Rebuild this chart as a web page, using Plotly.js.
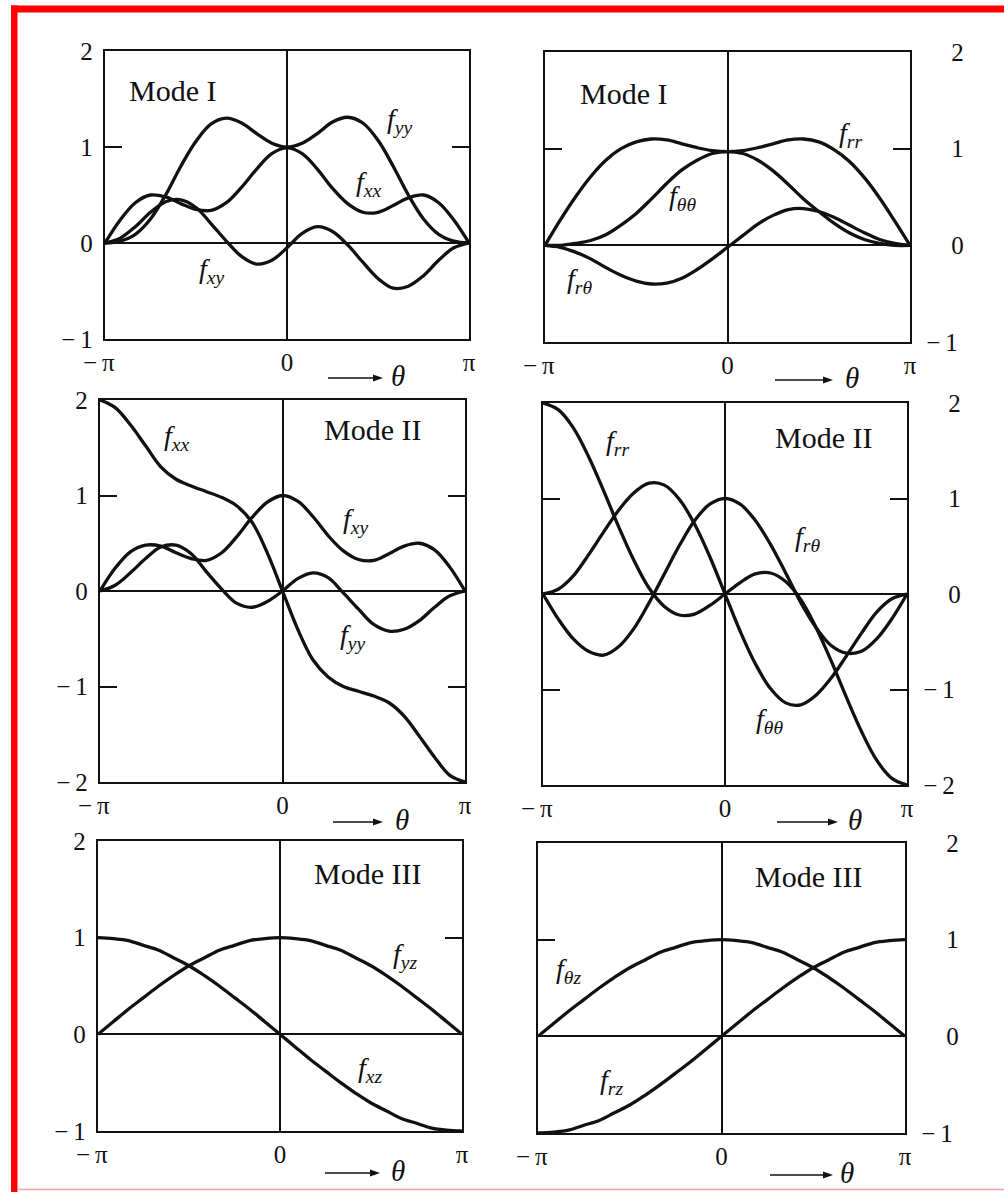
<!DOCTYPE html>
<html><head><meta charset="utf-8">
<script src="https://cdn.plot.ly/plotly-3.0.1.min.js"></script>
<style>html,body{margin:0;padding:0;background:#fff;}#chart{width:1004px;height:1192px;}</style>
</head><body><div id="chart"></div>
<script>
// angle grid (degrees) used for every curve
const theta = [-180,-165,-150,-135,-120,-105,-90,-75,-60,-45,-30,-15,0,15,30,45,60,75,90,105,120,135,150,165,180];

// Mode I, Cartesian
const m1_fxx = [0,0.24,0.42,0.50,0.48,0.41,0.35,0.34,0.42,0.58,0.77,0.93,0.99,0.93,0.77,0.57,0.41,0.32,0.32,0.39,0.47,0.50,0.42,0.24,0];
const m1_fyy = [0,0.02,0.09,0.25,0.50,0.80,1.06,1.24,1.30,1.25,1.14,1.04,1.00,1.04,1.14,1.26,1.31,1.25,1.07,0.80,0.50,0.25,0.09,0.02,0];
const m1_fxy = [0,0.05,0.17,0.32,0.43,0.45,0.37,0.20,0.02,-0.14,-0.22,-0.18,-0.05,0.10,0.17,0.12,-0.02,-0.20,-0.37,-0.47,-0.45,-0.34,-0.18,-0.05,0];
// Mode I, polar
const m1_frr = [0,0.26,0.50,0.71,0.88,1.00,1.07,1.10,1.09,1.05,1.01,0.98,0.97,0.98,1.01,1.05,1.09,1.10,1.07,0.99,0.87,0.70,0.49,0.25,0];
const m1_ftt = [0,0.00,0.02,0.05,0.11,0.21,0.33,0.48,0.64,0.78,0.88,0.95,0.97,0.95,0.88,0.77,0.63,0.48,0.35,0.23,0.13,0.06,0.02,0.00,0];
const m1_frt = [0,-0.02,-0.07,-0.14,-0.23,-0.31,-0.37,-0.40,-0.39,-0.34,-0.25,-0.14,-0.02,0.10,0.22,0.31,0.37,0.38,0.35,0.29,0.21,0.13,0.06,0.02,0];
// Mode II, Cartesian
const m2_fxx = [2.0,1.92,1.74,1.52,1.30,1.17,1.10,1.04,0.98,0.89,0.72,0.40,0.0,-0.40,-0.72,-0.90,-1.0,-1.05,-1.10,-1.17,-1.31,-1.52,-1.74,-1.93,-2.0];
const m2_fxy = [0,0.24,0.41,0.48,0.47,0.40,0.34,0.32,0.40,0.57,0.77,0.93,1.0,0.94,0.78,0.58,0.42,0.33,0.32,0.39,0.47,0.50,0.43,0.25,0];
const m2_fyy = [0,0.06,0.19,0.34,0.46,0.48,0.39,0.20,0.02,-0.13,-0.17,-0.11,0,0.13,0.19,0.14,-0.02,-0.19,-0.35,-0.42,-0.40,-0.31,-0.17,-0.05,0];
// Mode II, polar
const m2_frr = [2.0,1.93,1.74,1.44,1.08,0.70,0.35,0.06,-0.13,-0.22,-0.21,-0.12,0,0.12,0.21,0.22,0.13,-0.06,-0.35,-0.70,-1.08,-1.44,-1.74,-1.93,-2.0];
const m2_ftt = [0,0.05,0.19,0.41,0.65,0.88,1.06,1.16,1.14,0.99,0.73,0.39,0,-0.39,-0.73,-0.99,-1.14,-1.16,-1.06,-0.88,-0.65,-0.41,-0.19,-0.05,0];
const m2_frt = [0,-0.26,-0.47,-0.60,-0.64,-0.55,-0.36,-0.09,0.21,0.51,0.77,0.94,1.0,0.94,0.77,0.52,0.22,-0.09,-0.35,-0.54,-0.62,-0.60,-0.47,-0.26,0];
// Mode III, Cartesian
const m3_fxz = [1.0,0.99,0.97,0.92,0.87,0.79,0.71,0.61,0.50,0.38,0.26,0.13,0,-0.13,-0.26,-0.38,-0.50,-0.61,-0.71,-0.79,-0.87,-0.92,-0.97,-0.99,-1.0];
const m3_fyz = [0,0.13,0.26,0.38,0.50,0.61,0.71,0.79,0.87,0.92,0.97,0.99,1.0,0.99,0.97,0.92,0.87,0.79,0.71,0.61,0.50,0.38,0.26,0.13,0];
// Mode III, polar
const m3_frz = [-1.0,-0.99,-0.97,-0.92,-0.87,-0.79,-0.71,-0.61,-0.50,-0.38,-0.26,-0.13,0,0.13,0.26,0.38,0.50,0.61,0.71,0.79,0.87,0.92,0.97,0.99,1.0];
const m3_ftz = [0,0.13,0.26,0.38,0.50,0.61,0.71,0.79,0.87,0.92,0.97,0.99,1.0,0.99,0.97,0.92,0.87,0.79,0.71,0.61,0.50,0.38,0.26,0.13,0];

const xTickVals = [-180, 0, 180];
const xTickText = ['\u2212\u2009\u03c0\u2002', '0', '\u03c0'];
const yTicksShort = [-1, 0, 1, 2];
const yTicksLong = [-2, -1, 0, 1, 2];

const W = 1004, H = 1192;
const SERIF = 'Liberation Serif, Times New Roman, serif';
const TICK = 25;

// panel boxes in pixels: [left, right, top, bottom]
const panels = [
  {box:[105,469,51,339], side:'left',  yr:[-1,2], yt:yTicksShort, curves:[m1_fxx,m1_fyy,m1_fxy]},
  {box:[545,910,52,342], side:'right', yr:[-1,2], yt:yTicksShort, curves:[m1_frr,m1_ftt,m1_frt]},
  {box:[100,465,400,782], side:'left', yr:[-2,2], yt:yTicksLong, curves:[m2_fxx,m2_fxy,m2_fyy]},
  {box:[543,907,403,785], side:'right', yr:[-2,2], yt:yTicksLong, curves:[m2_frr,m2_ftt,m2_frt]},
  {box:[98,462,841,1131], side:'left', yr:[-1,2], yt:yTicksShort, curves:[m3_fxz,m3_fyz]},
  {box:[538,905,843,1133], side:'right', yr:[-1,2], yt:yTicksShort, curves:[m3_frz,m3_ftz]}
];

const data = [];
const layout = {
  width: W, height: H,
  margin: {l:0, r:0, t:0, b:0},
  paper_bgcolor: '#fff', plot_bgcolor: '#fff',
  showlegend: false,
  font: {family: SERIF, size: TICK, color: '#111'},
  annotations: [], shapes: []
};

panels.forEach((p, i) => {
  const n = i === 0 ? '' : String(i + 1);
  const [l, r, t, b] = p.box;
  p.curves.forEach(c => data.push({
    type: 'scatter', mode: 'lines', x: theta, y: c,
    xaxis: 'x' + n, yaxis: 'y' + n,
    line: {color: '#111', width: 3.3, shape: 'spline', smoothing: 1},
    hoverinfo: 'skip'
  }));
  const ytext = p.yt.map(v => v < 0 ? '\u2212\u2009' + (-v) : (p.side === 'right' ? '\u2003' + v : String(v)));
  layout['xaxis' + n] = {
    domain: [l / W, r / W], anchor: 'y' + n, range: [-180, 180],
    showgrid: false, zeroline: true, zerolinecolor: '#111', zerolinewidth: 2,
    showline: true, mirror: true, linecolor: '#111', linewidth: 2.2,
    ticks: '', tickmode: 'array', tickvals: xTickVals, ticktext: xTickText,
    tickfont: {family: SERIF, size: TICK, color: '#111'}, ticklabelstandoff: 0,
    fixedrange: true
  };
  layout['yaxis' + n] = {
    domain: [1 - b / H, 1 - t / H], anchor: 'x' + n, range: p.yr, side: p.side,
    showgrid: false, zeroline: true, zerolinecolor: '#111', zerolinewidth: 2,
    showline: true, mirror: 'ticks', linecolor: '#111', linewidth: 2.2,
    ticks: 'inside', ticklen: 17, tickwidth: 2, tickcolor: '#111',
    tickmode: 'array', tickvals: p.yt, ticktext: ytext,
    tickfont: {family: SERIF, size: TICK, color: '#111'}, ticklabelstandoff: p.side === 'right' ? 9 : 5,
    fixedrange: true
  };
});

function ann(n, x, y, text, size) {
  layout.annotations.push({xref: 'x' + n, yref: 'y' + n, x: x, y: y, text: text, showarrow: false,
    font: {family: SERIF, size: size, color: '#111'}, xanchor: 'center', yanchor: 'middle'});
}
function f(sub) { return '<i>f</i><sub><i>' + sub + '</i></sub>'; }
const MODE = 30, LAB = 28;

ann('', -113, 1.585, 'Mode I', MODE);
ann('', 111, 1.28, f('yy'), LAB);
ann('', 81, 0.62, f('xx'), LAB);
ann('', -75, -0.29, f('xy'), LAB);

ann('2', -103, 1.57, 'Mode I', MODE);
ann('2', 121, 1.15, f('rr'), LAB);
ann('2', -44, 0.50, f('\u03b8\u03b8'), LAB);
ann('2', -146, -0.36, f('r\u03b8'), LAB);

ann('3', 89, 1.69, 'Mode II', MODE);
ann('3', -105, 1.61, f('xx'), LAB);
ann('3', 72, 0.74, f('xy'), LAB);
ann('3', 69, -0.48, f('yy'), LAB);

ann('4', 97, 1.64, 'Mode II', MODE);
ann('4', -106, 1.59, f('rr'), LAB);
ann('4', 82, 0.58, f('r\u03b8'), LAB);
ann('4', 44, -1.32, f('\u03b8\u03b8'), LAB);

ann('5', 87, 1.66, 'Mode III', MODE);
ann('5', 124, 0.82, f('yz'), LAB);
ann('5', 89, -0.36, f('xz'), LAB);

ann('6', 85, 1.65, 'Mode III', MODE);
ann('6', -150, 0.68, f('\u03b8z'), LAB);
ann('6', -108, -0.47, f('rz'), LAB);

// "-> theta" markers under each panel (pixel positions: tail, head, y, theta x)
const arrows = [[328,383,378,398],[775,833,380,852],[333,383,822,402],[777,838,822,855],[325,380,1173,398],[770,833,1175,847]];
const px = v => v / W, py = v => 1 - v / H;
arrows.forEach(a => {
  const [x0, x1, y, tx] = a;
  layout.shapes.push({type:'line', xref:'paper', yref:'paper', x0: px(x0), x1: px(x1 - 8), y0: py(y), y1: py(y),
    line:{color:'#111', width:1.7}});
  layout.shapes.push({type:'path', xref:'paper', yref:'paper',
    path: 'M' + px(x1) + ',' + py(y) + ' L' + px(x1 - 10) + ',' + py(y - 3.6) + ' L' + px(x1 - 10) + ',' + py(y + 3.6) + ' Z',
    fillcolor:'#111', line:{width:0}});
  layout.annotations.push({xref:'paper', yref:'paper', x: px(tx), y: py(y - 2), text: '<i>\u03b8</i>',
    showarrow: false, font: {family: SERIF, size: 29, color: '#111'}, xanchor: 'center', yanchor: 'middle'});
});

// red frame of the scanned page
layout.shapes.push({type:'rect', xref:'paper', yref:'paper', x0: 11/W, x1: 1, y0: 1-12.5/H, y1: 1-5.5/H, fillcolor:'#ff0000', line:{width:0}});
layout.shapes.push({type:'rect', xref:'paper', yref:'paper', x0: 11/W, x1: 17.5/W, y0: 0, y1: 1-5.5/H, fillcolor:'#ff0000', line:{width:0}});
layout.shapes.push({type:'line', xref:'paper', yref:'paper', x0: 17.5/W, x1: 1, y0: 1-1189.5/H, y1: 1-1189.5/H, line:{color:'#f4a3a3', width:1.5}});

Plotly.newPlot('chart', data, layout, {displayModeBar: false, staticPlot: true});
</script></body></html>
